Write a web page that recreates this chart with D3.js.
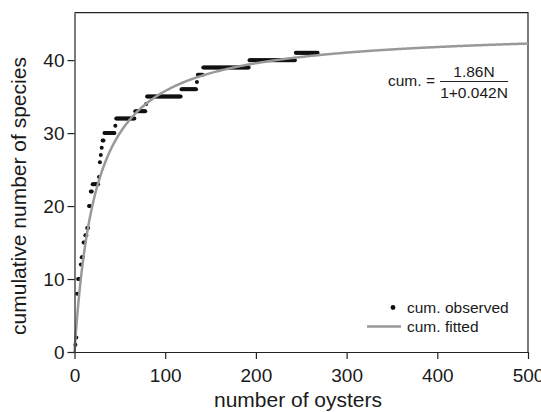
<!DOCTYPE html>
<meta charset="utf-8">
<head>
<style>
  body { margin: 0; background: #fff; }
  text { font-family: "Liberation Sans", Arial, sans-serif; fill: #1a1a1a; }
</style>
</head>
<body>
<script src="https://cdnjs.cloudflare.com/ajax/libs/d3/7.8.5/d3.min.js"></script>
<script>

// observed cumulative species, stored as runs: from oyster runStart[i] the count is runValue[i]
var runStart = [1, 2, 3, 4, 7, 8, 10, 12, 14, 16, 18, 20, 27, 28, 29, 30, 31, 33, 45, 46, 67, 79, 80, 118, 135, 136, 142, 193, 244];
var runValue = [1, 2, 8, 10, 12, 13, 15, 16, 17, 20, 22, 23, 24, 26, 27, 28, 29, 30, 31, 32, 33, 34, 35, 36, 37, 38, 39, 40, 41];
var lastOyster = 268;

// fitted curve cum = a*N / (1 + b*N)
var fitA = 1.86, fitB = 0.042;

var xTicks = [0, 100, 200, 300, 400, 500];
var yTicks = [0, 10, 20, 30, 40];

var width = 541, height = 412;
var margin = {top: 12.7, right: 13, bottom: 60, left: 74.5};

var svg = d3.select("body").append("svg")
    .attr("width", width)
    .attr("height", height);

var x = d3.scaleLinear().domain([0, 500]).range([margin.left, width - margin.right]);
var y = d3.scaleLinear().domain([0, 46.5]).range([height - margin.bottom, margin.top]);

// expand runs into one point per oyster
var observed = [];
runStart.forEach(function(s, i) {
  var end = i < runStart.length - 1 ? runStart[i + 1] - 1 : lastOyster;
  for (var n = s; n <= end; n++) observed.push({n: n, v: runValue[i]});
});

var fitted = d3.range(0, 501, 1).map(function(n) { return {n: n, v: fitA * n / (1 + fitB * n)}; });

// frame (top + right)
svg.append("path")
    .attr("d", "M" + x(0) + "," + y(46.5) + "H" + x(500) + "V" + y(0))
    .attr("fill", "none")
    .attr("stroke", "#222")
    .attr("stroke-width", 1.2);

var line = d3.line().x(function(d) { return x(d.n); }).y(function(d) { return y(d.v); });

svg.append("g").selectAll("circle")
    .data(observed)
    .enter().append("circle")
    .attr("cx", function(d) { return x(d.n); })
    .attr("cy", function(d) { return y(d.v); })
    .attr("r", 2)
    .attr("fill", "#111");

svg.append("path")
    .datum(fitted)
    .attr("d", line)
    .attr("fill", "none")
    .attr("stroke", "#999")
    .attr("stroke-width", 2.5);

var xAxis = svg.append("g")
    .attr("transform", "translate(0," + y(0) + ")")
    .call(d3.axisBottom(x).tickValues(xTicks).tickSize(7).tickPadding(10).tickSizeOuter(0));
var yAxis = svg.append("g")
    .attr("transform", "translate(" + x(0) + ",0)")
    .call(d3.axisLeft(y).tickValues(yTicks).tickSize(7).tickPadding(3).tickSizeOuter(0));

[xAxis, yAxis].forEach(function(g) {
  g.select(".domain").attr("stroke", "#222").attr("stroke-width", 1.2);
  g.selectAll(".tick line").attr("stroke", "#222").attr("stroke-width", 1.2);
  g.selectAll(".tick text").attr("font-size", 19).attr("font-family", "Liberation Sans, Arial, sans-serif").attr("fill", "#1a1a1a");
});

svg.append("text")
    .attr("x", 298).attr("y", 407)
    .attr("text-anchor", "middle")
    .attr("font-size", 21)
    .text("number of oysters");

svg.append("text")
    .attr("transform", "translate(26,196) rotate(-90)")
    .attr("text-anchor", "middle")
    .attr("font-size", 21)
    .text("cumulative number of species");

// equation
var eq = svg.append("g");
eq.append("text").attr("x", 388).attr("y", 86).attr("font-size", 15.5).text("cum. =");
eq.append("text").attr("x", 474).attr("y", 76.5).attr("text-anchor", "middle").attr("font-size", 15.5).text("1.86N");
eq.append("line").attr("x1", 440).attr("x2", 508).attr("y1", 81.5).attr("y2", 81.5).attr("stroke", "#222").attr("stroke-width", 1);
eq.append("text").attr("x", 474).attr("y", 97.5).attr("text-anchor", "middle").attr("font-size", 15.5).text("1+0.042N");

// legend
var legend = svg.append("g");
legend.append("circle").attr("cx", 393).attr("cy", 307.5).attr("r", 2.4).attr("fill", "#111");
legend.append("text").attr("x", 407).attr("y", 313).attr("font-size", 15.5).text("cum. observed");
legend.append("line").attr("x1", 367).attr("x2", 401).attr("y1", 326.5).attr("y2", 326.5).attr("stroke", "#999").attr("stroke-width", 2.5);
legend.append("text").attr("x", 407).attr("y", 331.5).attr("font-size", 15.5).text("cum. fitted");

</script>
</body>
